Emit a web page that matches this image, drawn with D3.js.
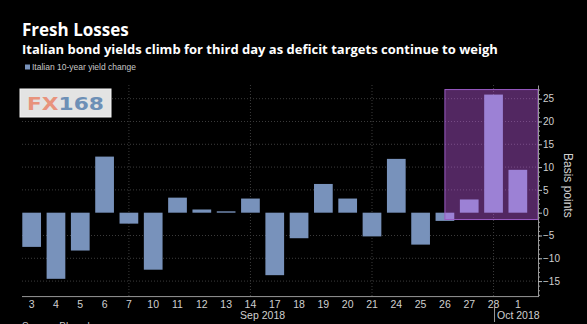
<!DOCTYPE html>
<html>
<head>
<meta charset="utf-8">
<script src="https://cdn.jsdelivr.net/npm/d3@7"></script>
<style>
  html, body { margin: 0; padding: 0; background: #000; }
  svg { display: block; }
</style>
</head>
<body>
<script>
// days on the x axis and the change in bp for each
const days = ['3', '4', '5', '6', '7', '10', '11', '12', '13', '14', '17', '18', '19', '20', '21', '24', '25', '26', '27', '28', '1'];
const yieldChange = [-7.5, -14.5, -8.3, 12.3, -2.4, -12.5, 3.3, 0.7, 0.3, 3.1, -13.7, -5.6, 6.3, 3.1, -5.2, 11.8, -7.0, -1.8, 2.9, 25.9, 9.4];
const yTicks = [-15, -10, -5, 0, 5, 10, 15, 20, 25];
const gridDays = ['7', '14', '21', '28'];
const highlightFrom = '26';
const highlightRange = [-1.5, 27];

const W = 587, H = 324;
const axisX = 538, plotLeft = 22;

const svg = d3.select('body').append('svg')
    .attr('width', W)
    .attr('height', H)
    .style('font-family', '"Liberation Sans", Arial, sans-serif');

svg.append('rect').attr('width', W).attr('height', H).attr('fill', '#000');

const x = d3.scaleBand()
    .domain(days)
    .range([19.5, 530])
    .paddingInner(0.23)
    .paddingOuter(0.115);

const y = d3.scaleLinear()
    .domain([-18.4, 28])
    .range([296.6, 85]);

// titles
svg.append('text')
    .attr('x', 22).attr('y', 36)
    .attr('fill', '#fff')
    .style('font-family', '"Open Sans", sans-serif')
    .style('font-weight', 700)
    .style('font-size', '17px')
    .text('Fresh Losses');

svg.append('text')
    .attr('x', 22).attr('y', 54)
    .attr('fill', '#fff')
    .style('font-family', '"Open Sans", sans-serif')
    .style('font-weight', 700)
    .style('font-size', '13px')
    .text('Italian bond yields climb for third day as deficit targets continue to weigh');

// legend
svg.append('rect')
    .attr('x', 25).attr('y', 64.5).attr('width', 5).attr('height', 5)
    .attr('fill', '#7892bb');
svg.append('text')
    .attr('x', 32).attr('y', 70)
    .attr('fill', '#c8c8c8')
    .style('font-size', '8.5px')
    .text('Italian 10-year yield change');

// gridlines
const grid = svg.append('g');
grid.selectAll('.hgrid')
    .data(yTicks.filter(d => d !== 0))
    .enter().append('line')
    .attr('x1', plotLeft).attr('x2', axisX)
    .attr('y1', d => y(d)).attr('y2', d => y(d))
    .attr('stroke', '#3c3c3c')
    .attr('stroke-dasharray', '1,2');
grid.selectAll('.vgrid')
    .data(gridDays)
    .enter().append('line')
    .attr('x1', d => x(d) + x.bandwidth() / 2)
    .attr('x2', d => x(d) + x.bandwidth() / 2)
    .attr('y1', y(28)).attr('y2', y(-18.4))
    .attr('stroke', '#3c3c3c')
    .attr('stroke-dasharray', '1,2');

// logo
svg.append('rect')
    .attr('x', 20).attr('y', 89).attr('width', 91).attr('height', 28)
    .attr('fill', '#e3e3e3')
    .attr('stroke', '#f4f4f4');
const logo = svg.append('text')
    .attr('x', 27).attr('y', 110)
    .attr('textLength', 77)
    .attr('lengthAdjust', 'spacingAndGlyphs')
    .style('font-family', '"DejaVu Sans", sans-serif')
    .style('font-weight', 700)
    .style('font-size', '17px');
logo.append('tspan').attr('fill', '#e8937d').text('FX');
logo.append('tspan').attr('fill', '#6d8fb6').text('168');

// bars
svg.selectAll('.bar')
    .data(days)
    .enter().append('rect')
    .attr('class', 'bar')
    .attr('x', d => x(d))
    .attr('width', x.bandwidth())
    .attr('y', (d, i) => y(Math.max(0, yieldChange[i])))
    .attr('height', (d, i) => Math.abs(y(yieldChange[i]) - y(0)))
    .attr('fill', '#7892bb');

// highlight box over the last days
const hx = x(highlightFrom) + x.bandwidth() / 2;
svg.append('rect')
    .attr('x', hx)
    .attr('y', y(highlightRange[1]))
    .attr('width', axisX - hx)
    .attr('height', y(highlightRange[0]) - y(highlightRange[1]))
    .attr('fill', '#d867ff')
    .attr('fill-opacity', 0.38)
    .attr('stroke', '#9a5cc4')
    .attr('stroke-width', 1);

// right axis
const minor = svg.append('g')
    .attr('transform', `translate(${axisX},0)`)
    .call(d3.axisRight(y).tickValues(d3.range(-18, 28)).tickSize(2).tickFormat(''));
minor.select('.domain').remove();
minor.selectAll('line').attr('stroke', '#999');

const yAxis = svg.append('g')
    .attr('transform', `translate(${axisX},0)`)
    .call(d3.axisRight(y).tickValues(yTicks).tickSize(4).tickPadding(1).tickSizeOuter(0));
yAxis.select('.domain').attr('stroke', '#999');
yAxis.selectAll('line').attr('stroke', '#bbb');
yAxis.selectAll('text')
    .attr('fill', '#d0d0d0')
    .style('font-size', '10px');

svg.append('text')
    .attr('transform', `translate(564,${y(6)}) rotate(90)`)
    .attr('text-anchor', 'middle')
    .attr('fill', '#d0d0d0')
    .style('font-size', '12px')
    .text('Basis points');

// bottom axis
const xAxis = svg.append('g')
    .attr('transform', `translate(0,${y(-18.4)})`)
    .call(d3.axisBottom(x).tickSize(0).tickPadding(4));
xAxis.select('.domain').remove();
xAxis.selectAll('text')
    .attr('fill', '#d0d0d0')
    .style('font-size', '10.5px');
svg.append('line')
    .attr('x1', plotLeft).attr('x2', axisX)
    .attr('y1', y(-18.4)).attr('y2', y(-18.4))
    .attr('stroke', '#999');

const sepStart = x('3') + x.bandwidth() / 2;
const sepEnd = x('28') + x.bandwidth() / 2;
svg.append('text')
    .attr('x', (sepStart + sepEnd) / 2).attr('y', 319)
    .attr('text-anchor', 'middle')
    .attr('fill', '#d0d0d0')
    .style('font-size', '10.5px')
    .text('Sep 2018');

const monthX = sepEnd + 1;
svg.append('line')
    .attr('x1', monthX).attr('x2', monthX)
    .attr('y1', 306).attr('y2', 322)
    .attr('stroke', '#999');
svg.append('text')
    .attr('x', monthX + 2.5).attr('y', 319)
    .attr('fill', '#d0d0d0')
    .style('font-size', '10.5px')
    .text('Oct 2018');

// source line, cut by the bottom edge as in the original
svg.append('text')
    .attr('x', 22).attr('y', 330)
    .attr('fill', '#c8c8c8')
    .style('font-size', '10px')
    .text('Source: Bloomberg');
</script>
</body>
</html>
